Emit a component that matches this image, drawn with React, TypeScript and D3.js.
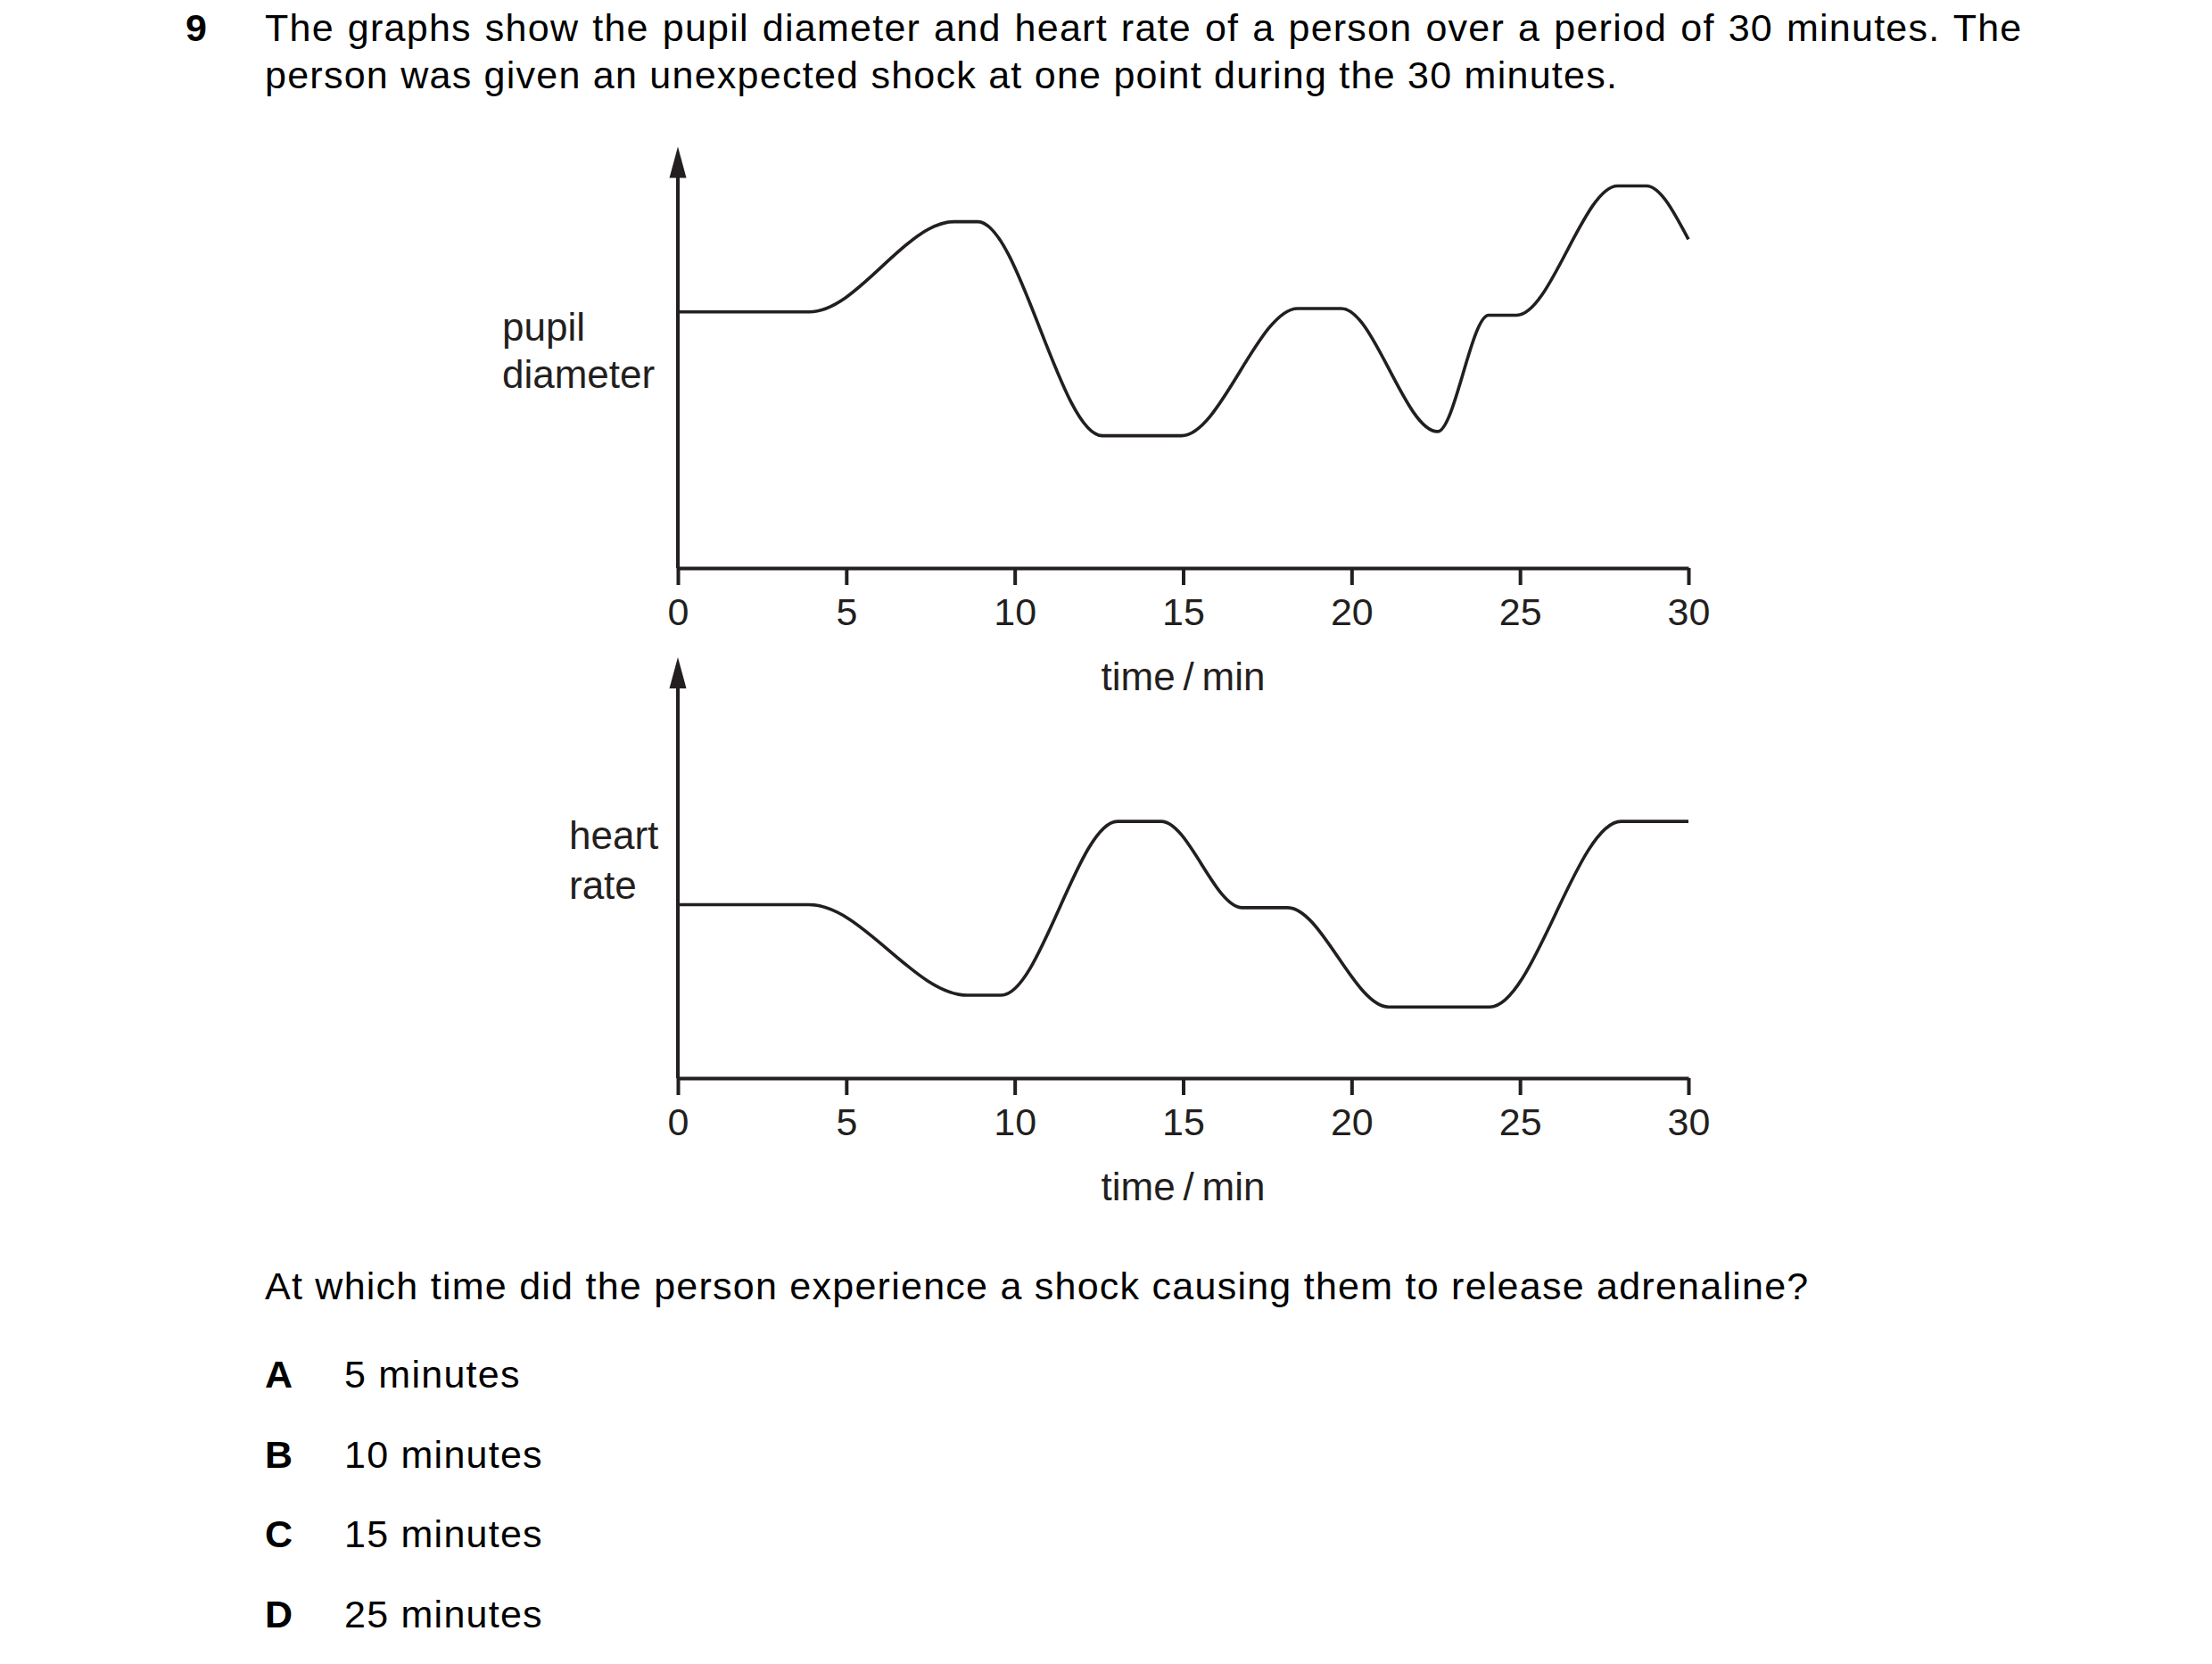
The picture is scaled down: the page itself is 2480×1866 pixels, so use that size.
import { useEffect, useRef } from "react";
import * as d3 from "d3";

// question text
const QUESTION_NO = "9";
const INTRO_LINES = [
  "The graphs show the pupil diameter and heart rate of a person over a period of 30 minutes. The",
  "person was given an unexpected shock at one point during the 30 minutes.",
];
const QUESTION = "At which time did the person experience a shock causing them to release adrenaline?";
const OPTION_KEYS = ["A", "B", "C", "D"];
const OPTION_TEXT = ["5 minutes", "10 minutes", "15 minutes", "25 minutes"];

// x axis (time / min)
const TIME_TICKS = [0, 5, 10, 15, 20, 25, 30];
const X_LABEL = "time\u2009/\u2009min";

// pupil diameter: key points (arbitrary units 0-10)
const PUPIL_TIME = [0, 3.9, 8.2, 8.9, 12.6, 14.95, 18.4, 19.7, 22.55, 24.07, 24.9, 27.9, 28.75, 30];
const PUPIL_VALUE = [6.08, 6.08, 8.22, 8.22, 3.14, 3.14, 6.16, 6.16, 3.24, 6.0, 6.0, 9.07, 9.07, 7.8];

// heart rate: key points (arbitrary units 0-10)
const HEART_TIME = [0, 3.9, 8.6, 9.6, 13.05, 14.35, 16.75, 18.1, 21.1, 24.1, 28.0, 30];
const HEART_VALUE = [4.12, 4.12, 1.97, 1.97, 6.1, 6.1, 4.05, 4.05, 1.69, 1.69, 6.1, 6.1];

const W = 2480;
const H = 1866;
const INK = "#231f20";
const FONT = "'Liberation Sans', Arial, Helvetica, sans-serif";

const X_RANGE = [760, 1893];
const CHARTS = [
  { label: ["pupil", "diameter"], labelX: 563, labelY: [382, 435], axisY: 637, topY: 164.5, t: PUPIL_TIME, v: PUPIL_VALUE },
  { label: ["heart", "rate"], labelX: 638, labelY: [952, 1008], axisY: 1209, topY: 737, t: HEART_TIME, v: HEART_VALUE },
];

const App = () => {
  const svgRef = useRef(null);

  useEffect(() => {
    const svg = d3.select(svgRef.current);
    svg.selectAll("*").remove();

    const xScale = d3.scaleLinear().domain([0, 30]).range(X_RANGE);

    CHARTS.forEach((c) => {
      const yScale = d3.scaleLinear().domain([0, 10]).range([c.axisY, c.topY]);
      const g = svg.append("g");

      // x axis
      const xAxis = d3
        .axisBottom(xScale)
        .tickValues(TIME_TICKS)
        .tickSize(19)
        .tickSizeOuter(0)
        .tickPadding(14)
        .tickFormat(d3.format("d"));
      const ax = g
        .append("g")
        .attr("transform", `translate(0, ${c.axisY})`)
        .call(xAxis);
      ax.select(".domain").attr("stroke", INK).attr("stroke-width", 4);
      ax.selectAll(".tick line").attr("stroke", INK).attr("stroke-width", 4);
      ax.selectAll(".tick text")
        .attr("fill", INK)
        .attr("font-size", 43)
        .attr("font-family", FONT);

      // y axis with arrow
      g.append("line")
        .attr("x1", xScale(0))
        .attr("x2", xScale(0))
        .attr("y1", yScale(0))
        .attr("y2", yScale(10) + 20)
        .attr("stroke", INK)
        .attr("stroke-width", 4);
      const tipX = xScale(0);
      const tipY = yScale(10);
      g.append("path")
        .attr("d", `M${tipX},${tipY} L${tipX - 9.5},${tipY + 35} L${tipX + 9.5},${tipY + 35} Z`)
        .attr("fill", INK);

      // axis title
      g.append("text")
        .attr("x", xScale(15))
        .attr("y", c.axisY + 137)
        .attr("text-anchor", "middle")
        .attr("font-size", 44)
        .attr("font-family", FONT)
        .attr("fill", INK)
        .text(X_LABEL);

      // y label
      c.label.forEach((s, i) => {
        g.append("text")
          .attr("x", c.labelX)
          .attr("y", c.labelY[i])
          .attr("font-size", 44)
          .attr("font-family", FONT)
          .attr("fill", INK)
          .text(s);
      });

      // curve
      const line = d3
        .line<number>()
        .x((d, i) => xScale(c.t[i]))
        .y((d) => yScale(d))
        .curve(d3.curveMonotoneX);
      g.append("path")
        .datum(c.v)
        .attr("d", line)
        .attr("fill", "none")
        .attr("stroke", INK)
        .attr("stroke-width", 3.6)
        .attr("stroke-linejoin", "round");
    });
  }, []);

  const textStyle = { fontFamily: FONT, fontSize: 43, letterSpacing: 1.25 };

  return (
    <svg
      width={W}
      height={H}
      style={{ position: "absolute", left: 0, top: 0, background: "#fff" }}
    >
      <text x={208} y={46} fontWeight="bold" {...textStyle} letterSpacing={0}>
        {QUESTION_NO}
      </text>
      {INTRO_LINES.map((s, i) => (
        <text key={i} x={297} y={46 + i * 53} {...textStyle} wordSpacing={i === 0 ? 1.8 : 0}>
          {s}
        </text>
      ))}
      <text x={297} y={1457} {...textStyle}>
        {QUESTION}
      </text>
      {OPTION_KEYS.map((k, i) => (
        <g key={k}>
          <text x={297} y={1556 + i * 89.7} fontWeight="bold" {...textStyle} letterSpacing={0}>
            {k}
          </text>
          <text x={386} y={1556 + i * 89.7} {...textStyle}>
            {OPTION_TEXT[i]}
          </text>
        </g>
      ))}
      <g ref={svgRef} />
    </svg>
  );
};

export default App;
